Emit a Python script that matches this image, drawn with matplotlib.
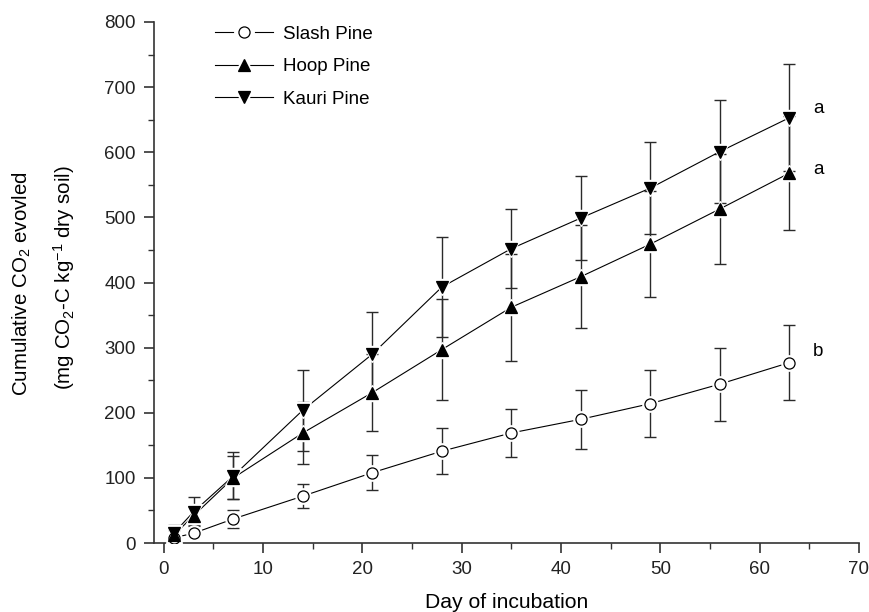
import matplotlib
matplotlib.use("Agg")
import matplotlib.pyplot as plt
from matplotlib.lines import Line2D
from matplotlib.legend_handler import HandlerTuple
from matplotlib.ticker import MultipleLocator

plt.rcParams['font.family'] = ['Liberation Sans', 'DejaVu Sans']
plt.rcParams['mathtext.default'] = 'regular'

days = [1, 3, 7, 14, 21, 28, 35, 42, 49, 56, 63]
slash = [8, 15, 37, 72, 108, 141, 169, 190, 214, 244, 277]
slash_err = [4, 5, 14, 18, 27, 35, 37, 45, 51, 56, 57]
hoop = [12, 42, 100, 169, 231, 297, 362, 409, 459, 513, 568]
hoop_err = [8, 15, 33, 48, 59, 77, 82, 79, 82, 84, 87]
kauri = [15, 48, 103, 204, 290, 393, 452, 499, 545, 601, 653]
kauri_err = [12, 22, 36, 62, 65, 77, 61, 64, 71, 79, 82]
labels = ["Slash Pine", "Hoop Pine", "Kauri Pine"]
letters = ["a", "a", "b"]
letter_y = [667, 574, 294]

fig = plt.figure(figsize=(8.69, 6.12), dpi=100)
ax = fig.add_axes([153.9/869, 69/612, 705/869, 521/612])

ecol = '#2a2a2a'
series = [
    (slash, slash_err, 'o', 8, 'white'),
    (hoop, hoop_err, '^', 9, 'black'),
    (kauri, kauri_err, 'v', 9, 'black'),
]
for vals, errs, mk, ms, fc in series:
    ax.errorbar(days, vals, yerr=errs, fmt='-', color='black', lw=0.8, ecolor=ecol,
                elinewidth=1.0, capsize=4, capthick=1.0, zorder=2)
for vals, errs, mk, ms, fc in series:
    ax.plot(days, vals, linestyle='none', marker=mk, ms=ms + 3, mfc='white', mec='white', zorder=3)
for vals, errs, mk, ms, fc in series:
    ax.plot(days, vals, linestyle='none', marker=mk, ms=ms, mfc=fc, mec='black', mew=0.9, zorder=4)

for t, yv in zip(letters, letter_y):
    ax.text(65.9, yv, t, fontsize=13.5, ha='center', va='center')

ax.set_xlim(-1, 70)
ax.set_ylim(0, 800)
ax.xaxis.set_major_locator(MultipleLocator(10))
ax.xaxis.set_minor_locator(MultipleLocator(5))
ax.yaxis.set_major_locator(MultipleLocator(100))
ax.yaxis.set_minor_locator(MultipleLocator(50))
for s in ['top', 'right']:
    ax.spines[s].set_visible(False)
for s in ['left', 'bottom']:
    ax.spines[s].set_linewidth(1.2)
    ax.spines[s].set_color('#333333')
ax.tick_params(which='major', direction='out', length=7, width=1.1, labelsize=13.5, colors='#222222', pad=6)
ax.tick_params(which='minor', direction='out', length=4, width=1.0, colors='#333333')

ax.set_xlabel("Day of incubation", fontsize=15.2, labelpad=11)

fig.text(22/869, 1 - 284/612, "Cumulative CO$_2$ evovled", rotation=90, fontsize=14.8, ha='center', va='center')
fig.text(64/869, 1 - 278/612, "(mg CO$_2$-C kg$^{-1}$ dry soil)", rotation=90, fontsize=14.8, ha='center', va='center')

handles = []
for vals, errs, mk, ms, fc in series:
    ln = Line2D([], [], color='black', lw=0.8)
    halo = Line2D([], [], linestyle='none', marker=mk, ms=ms + 6, mfc='white', mec='white')
    mkr = Line2D([], [], linestyle='none', marker=mk, ms=ms, mfc=fc, mec='black', mew=0.9)
    handles.append((ln, halo, mkr))
ax.legend(handles, labels, loc='upper left', bbox_to_anchor=(0.087, 0.993), frameon=False,
          fontsize=13.5, handlelength=3.1, handletextpad=0.5, labelspacing=0.82,
          borderpad=0, borderaxespad=0, numpoints=1,
          handler_map={tuple: HandlerTuple(ndivide=1)})

fig.savefig("out.png", dpi=100)
